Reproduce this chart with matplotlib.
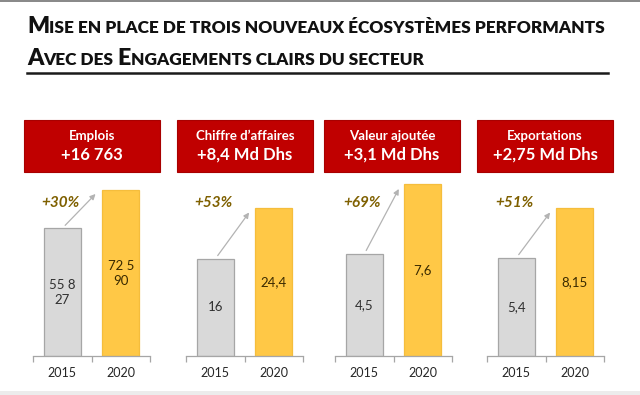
import matplotlib
matplotlib.use("Agg")
import matplotlib.pyplot as plt
from matplotlib.patches import Rectangle
from matplotlib.lines import Line2D
from matplotlib.transforms import blended_transform_factory

plt.rcParams['font.family'] = ['Lato', 'DejaVu Sans']

# ---- data ----
years = ["2015", "2020"]
titles = ["Emplois", "Chiffre d\u2019affaires", "Valeur ajout\u00e9e", "Exportations"]
gains = ["+16 763", "+8,4 Md Dhs", "+3,1 Md Dhs", "+2,75 Md Dhs"]
values_2015 = [55827, 16, 4.5, 5.4]
values_2020 = [72590, 24.4, 7.6, 8.15]
labels_2015 = ["55 8\n27", "16", "4,5", "5,4"]
labels_2020 = ["72 5\n90", "24,4", "7,6", "8,15"]
growth = ["+30%", "+53%", "+69%", "+51%"]
ymax = [79150, 29.84, 8.0, 9.97]

W, H = 640, 395
fig = plt.figure(figsize=(6.4, 3.95), dpi=100)
fig.patch.set_facecolor("white")

def fx(x):
    return x / W

def fy(y):
    return 1 - y / H

# frame bands
fig.add_artist(Rectangle((0, fy(2)), 1, 2 / H, transform=fig.transFigure,
                         facecolor="#8a8a8a", edgecolor="none"))
fig.add_artist(Rectangle((0, 0), 1, 4 / H, transform=fig.transFigure,
                         facecolor="#ececec", edgecolor="none"))

# ---- title in small caps ----
renderer = fig.canvas.get_renderer()

def smallcaps(segments, x0, yb, big, small):
    x = x0
    arts = []
    for txt, isbig in segments:
        t = fig.text(fx(x), fy(yb), txt, fontsize=big if isbig else small,
                     fontweight="heavy", color="#111111", va="baseline", ha="left")
        bb = t.get_window_extent(renderer=renderer)
        x += bb.width
        arts.append(t)
    return x, arts

line1 = [("M", True), ("ISE EN PLACE DE TROIS NOUVEAUX \u00c9COSYST\u00c8MES PERFORMANTS", False)]
line2 = [("A", True), ("VEC DES ", False), ("E", True), ("NGAGEMENTS CLAIRS DU SECTEUR", False)]
big, small = 16.0, 12.0
xend, arts = smallcaps(line1, 27, 33, big, small)
scale = (605 - 27) / (xend - 27)
for a in arts:
    a.remove()
big *= scale
small *= scale
smallcaps(line1, 27, 33, big, small)
smallcaps(line2, 27, 65, big, small)
fig.add_artist(Line2D([fx(27), fx(608)], [fy(72.5), fy(72.5)], transform=fig.transFigure,
                      color="#1a1a1a", lw=1.8))

# ---- panels ----
box_x = [24, 177, 324, 477]
box_w = 136
ax_left = [33, 186, 335, 487]
ax_w = 117
base_y, top_y = 356, 175
bar_w = 0.63

for i in range(4):
    # red header box
    fig.add_artist(Rectangle((fx(box_x[i]), fy(172)), box_w / W, 52 / H,
                             transform=fig.transFigure, facecolor="#c00000",
                             edgecolor="#a80000", lw=0.8))
    cx = fx(box_x[i] + box_w / 2)
    fig.text(cx, fy(136.5), titles[i], color="white", fontsize=9.5, fontweight="bold",
             ha="center", va="center")
    fig.text(cx, fy(155), gains[i], color="white", fontsize=12, fontweight="bold",
             ha="center", va="center")

    ax = fig.add_axes([fx(ax_left[i]), fy(base_y), ax_w / W, (base_y - top_y) / H])
    ax.set_xlim(-0.5, 1.5)
    ax.set_ylim(0, ymax[i])
    vals = [values_2015[i], values_2020[i]]
    ax.bar([0, 1], vals, width=bar_w, color=["#d9d9d9", "#ffc846"],
           edgecolor=["#a6a6a6", "#f5bd3c"], linewidth=0.9, zorder=2)
    ax.text(0, vals[0] / 2, labels_2015[i], ha="center", va="center", fontsize=9.5,
            color="#303030", linespacing=1.3)
    ax.text(1, vals[1] / 2, labels_2020[i], ha="center", va="center", fontsize=9.5,
            color="#3a2a00", linespacing=1.3)
    # growth arrow
    ax.annotate("", xy=(1 - bar_w / 2 - 0.05, vals[1]), xycoords="data",
                xytext=(0, vals[0]), textcoords="data",
                arrowprops=dict(arrowstyle="-|>", color="#b3b3b3", lw=0.9,
                                shrinkA=3, shrinkB=4, mutation_scale=8),
                annotation_clip=False)
    tr = blended_transform_factory(ax.transData, fig.transFigure)
    ax.text(-0.03, fy(203), growth[i], transform=tr, ha="center", va="center",
            fontsize=11, fontweight="bold", fontstyle="italic", color="#7f6000")

    for s in ["top", "right", "left"]:
        ax.spines[s].set_visible(False)
    ax.spines["bottom"].set_color("#a6a6a6")
    ax.spines["bottom"].set_linewidth(0.9)
    ax.set_yticks([])
    ax.set_xticks([0, 1])
    ax.set_xticklabels(years, fontsize=9, color="#262626")
    ax.tick_params(axis="x", which="major", length=0, pad=8)
    ax.set_xticks([-0.5, 0.5, 1.5], minor=True)
    ax.tick_params(axis="x", which="minor", length=4, color="#a6a6a6", width=0.9)
    ax.patch.set_alpha(0)

fig.savefig("out.png", dpi=100)
